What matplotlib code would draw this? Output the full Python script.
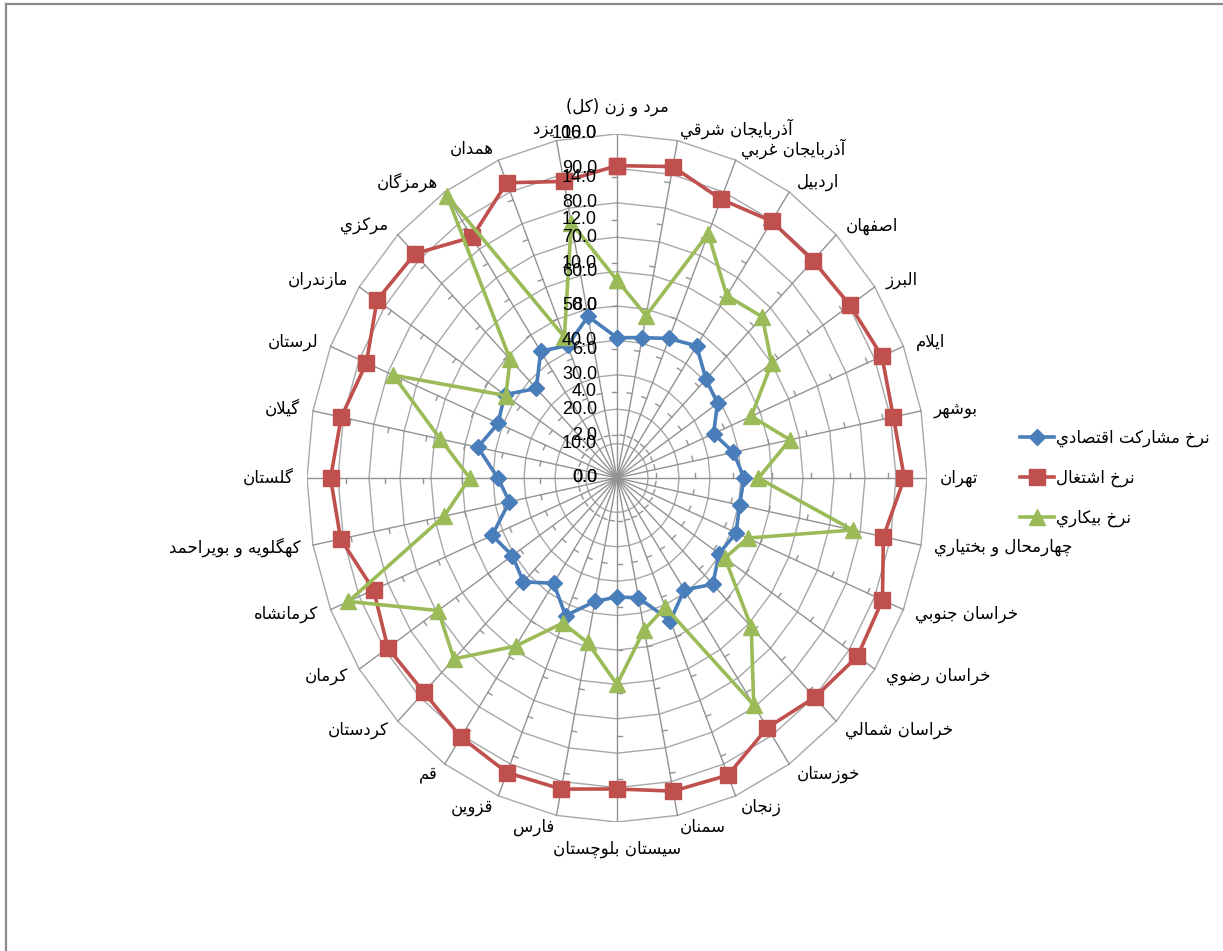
import matplotlib
matplotlib.use("Agg")
import matplotlib.pyplot as plt
import numpy as np
from matplotlib.lines import Line2D

provinces = ["مرد و زن (كل)", "آذربايجان شرقي", "آذربايجان غربي", "اردبيل", "اصفهان", "البرز",
             "ايلام", "بوشهر", "تهران", "چهارمحال و بختياري", "خراسان جنوبي", "خراسان رضوي",
             "خراسان شمالي", "خوزستان", "زنجان", "سمنان", "سيستان بلوچستان", "فارس", "قزوين",
             "قم", "كردستان", "كرمان", "كرمانشاه", "كهگلويه و بويراحمد", "گلستان", "گيلان",
             "لرستان", "مازندران", "مركزي", "هرمزگان", "همدان", "يزد"]

participation = [40.8, 41.6, 43.9, 46.2, 40.6, 39.0, 33.7, 38.3, 41.0, 40.3, 41.6, 39.6,
                 43.7, 39.1, 44.9, 35.5, 34.6, 36.6, 43.3, 36.8, 42.7, 40.6, 43.6, 35.4,
                 38.4, 45.8, 41.5, 43.6, 36.8, 44.3, 41.7, 47.9]
employment = [90.8, 92.3, 87.7, 89.8, 89.4, 90.4, 92.5, 90.9, 92.7, 87.6, 92.7, 93.3,
              90.2, 87.3, 93.5, 92.8, 90.4, 92.2, 92.7, 90.6, 88.1, 88.9, 85.0, 90.9,
              92.4, 90.7, 87.5, 93.1, 92.2, 84.2, 92.9, 87.9]
unemployment = [9.2, 7.7, 12.3, 10.2, 10.6, 9.6, 7.5, 9.1, 7.3, 12.4, 7.3, 6.7,
                9.8, 12.7, 6.5, 7.2, 9.6, 7.8, 7.3, 9.4, 11.9, 11.1, 15.0, 9.1,
                7.6, 9.3, 12.5, 6.9, 7.8, 15.8, 7.1, 12.1]

series_names = ["نرخ مشاركت اقتصادي", "نرخ اشتغال", "نرخ بيكاري"]
primary_ticks = np.arange(0, 101, 10)
secondary_ticks = np.arange(0, 17, 2)
primary_max = 100.0
secondary_max = 16.0

# --- minimal arabic shaping (presentation forms + reverse) ---
DUAL = {'ب': 0xFE8F, 'ت': 0xFE95, 'ث': 0xFE99, 'ج': 0xFE9D, 'ح': 0xFEA1, 'خ': 0xFEA5,
        'س': 0xFEB1, 'ش': 0xFEB5, 'ص': 0xFEB9, 'ض': 0xFEBD, 'ط': 0xFEC1, 'ظ': 0xFEC5,
        'ع': 0xFEC9, 'غ': 0xFECD, 'ف': 0xFED1, 'ق': 0xFED5, 'ك': 0xFED9, 'ل': 0xFEDD,
        'م': 0xFEE1, 'ن': 0xFEE5, 'ه': 0xFEE9, 'ي': 0xFEF1, 'پ': 0xFB56, 'چ': 0xFB7A,
        'ک': 0xFB8E, 'گ': 0xFB92, 'ی': 0xFBFC}
RIGHT = {'ا': 0xFE8D, 'آ': 0xFE81, 'د': 0xFEA9, 'ذ': 0xFEAB, 'ر': 0xFEAD, 'ز': 0xFEAF,
         'ژ': 0xFB8A, 'و': 0xFEED}
LAM_ALEF = {'ا': 0xFEFB, 'آ': 0xFEF5}


def shape(text):
    toks = []
    i = 0
    while i < len(text):
        c = text[i]
        if c == 'ل' and i + 1 < len(text) and text[i + 1] in LAM_ALEF:
            toks.append(('R', LAM_ALEF[text[i + 1]]))
            i += 2
            continue
        if c in DUAL:
            toks.append(('D', DUAL[c]))
        elif c in RIGHT:
            toks.append(('R', RIGHT[c]))
        else:
            toks.append(('N', c))
        i += 1
    out = []
    for k, (kind, val) in enumerate(toks):
        if kind == 'N':
            out.append(val)
            continue
        prev_j = k > 0 and toks[k - 1][0] == 'D'
        next_j = kind == 'D' and k + 1 < len(toks) and toks[k + 1][0] in 'DR'
        if kind == 'R':
            out.append(chr(val + (1 if prev_j else 0)))
        else:
            idx = {(False, False): 0, (True, False): 1, (False, True): 2, (True, True): 3}[(prev_j, next_j)]
            out.append(chr(val + idx))
    vis = ''.join(reversed(out))
    return vis.translate(str.maketrans('()', ')('))


W, H = 1223, 951
CX, CY = 617, 478          # centre in pixels (from top)
RX, RY = 310, 344          # radius of the 100 ring in pixels

fig = plt.figure(figsize=(W / 100, H / 100), dpi=100)
ax = fig.add_axes([(CX - RX) / W, (H - CY - RY) / H, 2 * RX / W, 2 * RY / H])
ax.set_xlim(-1, 1)
ax.set_ylim(-1, 1)
ax.axis('off')

n = len(provinces)
theta = np.arange(n) * 2 * np.pi / n
sx, cy = np.sin(theta), np.cos(theta)


def to_xy(vals, vmax):
    r = np.asarray(vals, dtype=float) / vmax
    x, y = r * sx, r * cy
    return np.append(x, x[0]), np.append(y, y[0])


# rings
for t in primary_ticks[1:]:
    x, y = to_xy(np.full(n, t), primary_max)
    ax.plot(x, y, color='#a8a8a8', lw=1.0, zorder=1)
# spokes
for i in range(n):
    ax.plot([0, sx[i]], [0, cy[i]], color='#939393', lw=1.0, zorder=1)
# small ticks for secondary axis on spokes
for t in secondary_ticks[1:-1]:
    r = t / secondary_max
    for i in range(n):
        px, py = sx[i] * RX, cy[i] * RY
        nrm = np.hypot(px, py)
        tx, ty = -py / nrm, px / nrm
        bx, by = r * sx[i], r * cy[i]
        ax.plot([bx, bx + tx * 5 / RX], [by, by + ty * 5 / RY], color='#939393', lw=1.0, zorder=1)

colors = ['#4A7EBB', '#C0504D', '#9BBB59']
x, y = to_xy(participation, primary_max)
ax.plot(x, y, color=colors[0], lw=2.6, marker='D', ms=8.5, label=shape(series_names[0]),
        zorder=3, clip_on=False)
x, y = to_xy(employment, primary_max)
ax.plot(x, y, color=colors[1], lw=2.6, marker='s', ms=11, label=shape(series_names[1]),
        zorder=4, clip_on=False)
x, y = to_xy(unemployment, secondary_max)
ax.plot(x, y, color=colors[2], lw=2.6, marker='^', ms=12, label=shape(series_names[2]),
        zorder=5, clip_on=False)

num_font = dict(family=['Liberation Sans', 'DejaVu Sans'], fontsize=13)
ar_font = dict(family=['DejaVu Sans'], fontsize=12)

for t in primary_ticks:
    ax.annotate(f"{t:.1f}", xy=(0, t / primary_max), xytext=(-20, 0), textcoords='offset pixels',
                ha='right', va='center', zorder=6, **num_font)
for t in secondary_ticks:
    ax.annotate(f"{t:.1f}", xy=(0, t / secondary_max), xytext=(-20, 0), textcoords='offset pixels',
                ha='right', va='center', zorder=6, **num_font)

for i, name in enumerate(provinces):
    if abs(sx[i]) < 1e-6:
        off = (0, 27 * np.sign(cy[i]))
        ha = 'center'
    else:
        off = (13 * sx[i], 12 * cy[i])
        ha = 'left' if sx[i] > 0 else 'right'
    ax.annotate(shape(name), xy=(sx[i], cy[i]), xytext=off, textcoords='offset pixels',
                ha=ha, va='center', **ar_font)

fig.legend(loc='center left', bbox_to_anchor=(1012 / W, (H - 478) / H), frameon=False,
           prop={'family': 'DejaVu Sans', 'size': 12}, handlelength=2.0, handletextpad=0.15,
           labelspacing=1.3, borderpad=0)

# chart frame (only left and top edges fall inside the picture)
fig.add_artist(Line2D([6 / W, 6 / W], [0, 1 - 3.5 / H], transform=fig.transFigure,
                      color='#8c8c8c', lw=1.6))
fig.add_artist(Line2D([6 / W, 1], [1 - 3.5 / H, 1 - 3.5 / H], transform=fig.transFigure,
                      color='#8c8c8c', lw=1.6))

fig.savefig("out.png", dpi=100)
